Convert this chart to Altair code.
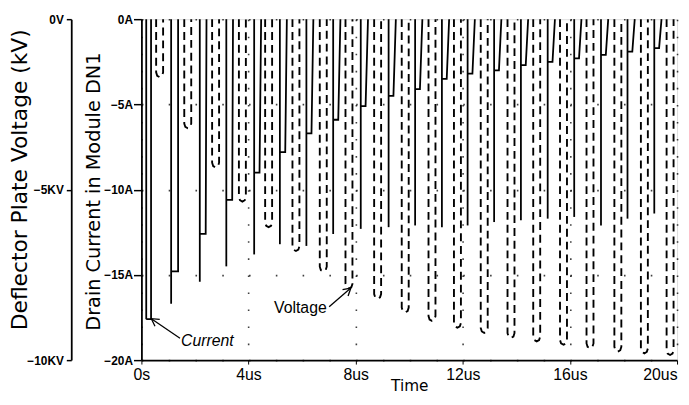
import altair as alt
import pandas as pd
import numpy as np

# ---- values (time in us, current in A, voltage in kV) ----
cur_start = [0.18, 1.11, 2.18, 3.17, 4.21, 5.17, 6.16, 7.16, 8.19, 9.23,
             10.22, 11.22, 12.18, 13.17, 14.17, 15.17, 16.16, 17.16, 18.15, 19.15]
cur_peak = [-17.6, -16.7, -15.4, -14.5, -13.8, -13.2, -13.3, -12.6, -12.3, -12.2,
            -12.1, -12.2, -12.1, -11.9, -11.8, -11.7, -11.6, -12.1, -11.7, -11.4]
cur_level = [-17.6, -14.8, -12.6, -10.6, -9.0, -7.8, -6.7, -5.9, -5.1, -4.5,
             -4.1, -3.5, -3.2, -3.0, -2.7, -2.5, -2.3, -2.1, -1.9, -1.7]
cur_width_top = [0.18, 0.26, 0.25, 0.25, 0.26, 0.26, 0.26, 0.27, 0.27, 0.27,
                 0.27, 0.27, 0.27, 0.27, 0.27, 0.27, 0.27, 0.27, 0.27, 0.27]
cur_width_bot = [0.18, 0.26, 0.22, 0.22, 0.20, 0.20, 0.19, 0.19, 0.18, 0.18,
                 0.18, 0.18, 0.18, 0.18, 0.18, 0.18, 0.18, 0.18, 0.18, 0.18]

volt_start = [0.55, 1.60, 2.64, 3.64, 4.62, 5.64, 6.66, 7.62, 8.69, 9.72,
              10.72, 11.67, 12.67, 13.67, 14.63, 15.63, 16.62, 17.66, 18.65, 19.61]
volt_min = [-1.7, -3.2, -4.35, -5.35, -6.1, -6.8, -7.4, -7.9, -8.2, -8.6,
            -8.85, -9.05, -9.2, -9.35, -9.45, -9.55, -9.65, -9.75, -9.8, -9.85]
volt_width = 0.26

x_ticks = [0, 4, 8, 12, 16, 20]
cur_ticks = [0, -5, -10, -15, -20]
volt_ticks = [0, -5, -10]

# annotations: label, text position, arrow tail, arrow tip
ann_label = ["Current", "Voltage"]
ann_text_t = [1.48, 6.92]
ann_text_a = [-18.9, -16.95]
arrow_t0 = [1.44, 7.01]
arrow_a0 = [-18.72, -16.87]
arrow_t1 = [0.37, 7.82]
arrow_a1 = [-17.57, -15.77]

W, H = 542, 345

# ---- build tables ----
rows = []
for k in range(len(cur_start)):
    t0 = cur_start[k]
    rows += [dict(t=t0, amp=0.0, seg=f"a{k}", o=0), dict(t=t0, amp=cur_peak[k], seg=f"a{k}", o=1)]
    rows += [dict(t=t0 + cur_width_top[k], amp=0.0, seg=f"b{k}", o=0),
             dict(t=t0 + cur_width_bot[k], amp=cur_level[k], seg=f"b{k}", o=1),
             dict(t=t0, amp=cur_level[k], seg=f"b{k}", o=2)]
cur_df = pd.DataFrame(rows)

vrows = []
for k in range(len(volt_start)):
    t0, v = volt_start[k], volt_min[k]
    pts = [(t0, 0.0), (t0, v + 0.14), (t0 + 0.04, v + 0.04), (t0 + 0.13, v),
           (t0 + 0.22, v + 0.04), (t0 + volt_width, v + 0.14), (t0 + volt_width, 0.0)]
    for i, (tt, vv) in enumerate(pts):
        vrows.append(dict(t=tt, kv=vv, seg=f"v{k}", o=i))
volt_df = pd.DataFrame(vrows)

ann_df = pd.DataFrame(dict(label=ann_label, t=ann_text_t, a=ann_text_a))
px_t, px_a = W / 20.0, H / 20.0
ang = [(np.degrees(np.arctan2(-(a0 - a1) * px_a, (t0 - t1) * px_t)) % 360)
       for t0, a0, t1, a1 in zip(arrow_t0, arrow_a0, arrow_t1, arrow_a1)]
arr_df = pd.DataFrame(dict(t=arrow_t0, a=arrow_a0, t2=arrow_t1, a2=arrow_a1, ang=ang))

FONT = "DejaVu Sans"
xscale = alt.Scale(domain=[0, 20], nice=False, zero=False)
x_axis = alt.Axis(values=x_ticks, labelExpr="datum.value == 0 ? '0s' : datum.value + 'us'",
                  title="Time", titleFont=FONT, titleFontSize=15.5, titleFontWeight="normal",
                  titleY=31, titleBaseline="alphabetic", titleColor="black",
                  labelFont="Liberation Sans", labelFontSize=16, labelBaseline="alphabetic",
                  labelPadding=16, tickSize=4, labelColor="black", tickColor="black",
                  domainColor="black", domainWidth=1.6,
                  labelAlign=alt.ExprRef("datum.value == 20 ? 'right' : 'center'"),
                  grid=True, gridDash=[1.6, 15.65], gridColor="black", gridWidth=1.6,
                  gridOpacity=0.75)
cscale = alt.Scale(domain=[-20, 0], nice=False, zero=False)
cur_axis = alt.Axis(values=cur_ticks, orient="left",
                    labelExpr="datum.value == 0 ? '0A' : '\u2212' + abs(datum.value) + 'A'",
                    labelFont="Liberation Sans", labelFontSize=12, labelFontWeight="bold",
                    labelColor="black", tickColor="black", tickSize=8, tickWidth=1.5,
                    labelPadding=1, domainColor="black", domainWidth=1.8,
                    title="Drain Current in Module DN1", titleFont=FONT, titleFontSize=19.5,
                    titleFontWeight="normal", titleColor="black",
                    titleX=-48, titleY=174, titleAngle=270, titleAlign="center",
                    titleBaseline="middle",
                    grid=True, gridDash=[1.6, 25.5], gridColor="black", gridWidth=1.6,
                    gridOpacity=0.75)
volt_axis = alt.Axis(values=volt_ticks, orient="left", offset=71,
                     labelExpr="datum.value == 0 ? '0V' : '\u2212' + abs(datum.value) + 'KV'",
                     labelFont="Liberation Sans", labelFontSize=12, labelFontWeight="bold",
                     labelColor="black", tickColor="black", tickSize=5, tickWidth=1.5,
                     labelPadding=3, domainColor="black", domainWidth=1.8,
                     title="Deflector Plate Voltage (kV)", titleFont=FONT, titleFontSize=22,
                     titleFontWeight="normal", titleColor="black",
                     titleX=-52, titleY=162, titleAngle=270, titleAlign="center",
                     titleBaseline="middle", grid=False)

xenc = alt.X("t:Q", scale=xscale, axis=x_axis)

current = alt.Chart(cur_df).mark_line(color="black", strokeWidth=1.8).encode(
    x=xenc,
    y=alt.Y("amp:Q", scale=cscale, axis=cur_axis),
    detail="seg:N", order="o:Q")

voltage = alt.Chart(volt_df).mark_line(color="black", strokeWidth=1.9, strokeDash=[8, 5]).encode(
    x=xenc,
    y=alt.Y("kv:Q", scale=alt.Scale(domain=[-10, 0], nice=False, zero=False), axis=volt_axis),
    detail="seg:N", order="o:Q")

arrows = alt.Chart(arr_df).mark_rule(color="black", strokeWidth=1.3).encode(
    x=xenc, y=alt.Y("a:Q", scale=cscale, axis=None), x2="t2:Q", y2="a2:Q")

heads = alt.Chart(arr_df).mark_point(shape="M 1.3 -0.75 L 0 0 L 1.3 0.75", filled=False,
                                     color="black", strokeWidth=1.3, size=130, opacity=1).encode(
    x=alt.X("t2:Q", scale=xscale, axis=x_axis),
    y=alt.Y("a2:Q", scale=cscale, axis=None),
    angle=alt.Angle("ang:Q", scale=None))

texts_l = alt.Chart(ann_df[ann_df.label == "Current"]).mark_text(
    font="Liberation Sans", fontSize=16, color="black", baseline="middle",
    align="left", fontStyle="italic").encode(
    x=xenc, y=alt.Y("a:Q", scale=cscale, axis=None), text="label:N")
texts_r = alt.Chart(ann_df[ann_df.label == "Voltage"]).mark_text(
    font="Liberation Sans", fontSize=16, color="black", baseline="middle",
    align="right").encode(
    x=xenc, y=alt.Y("a:Q", scale=cscale, axis=None), text="label:N")

chart = alt.layer(current, arrows, heads, texts_l, texts_r, voltage).resolve_scale(
    y="independent").properties(
    width=W, height=H,
    autosize=alt.AutoSizeParams(type="none"),
    padding={"left": 135, "top": 9, "right": 4, "bottom": 35},
).configure_view(stroke="black", strokeWidth=1.8).configure(background="white")

chart.save("out.html", embed_options={"renderer": "svg", "actions": False})
